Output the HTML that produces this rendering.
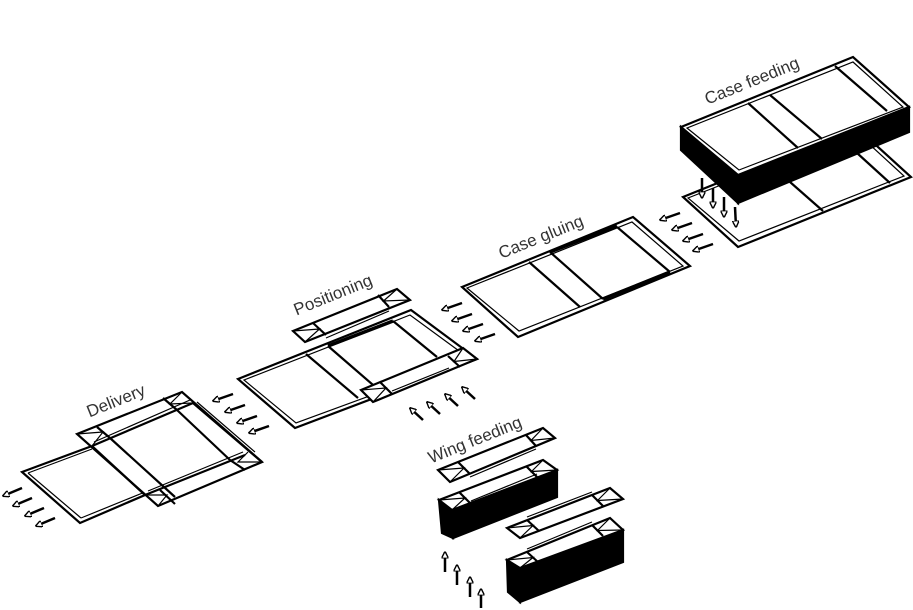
<!DOCTYPE html>
<html><head><meta charset="utf-8"><style>
html,body{margin:0;padding:0;background:#fff;}
svg{display:block}
text{font-family:"Liberation Sans",sans-serif;font-size:17px;fill:#333}
</style></head><body>
<svg width="913" height="610" viewBox="0 0 913 610" xmlns="http://www.w3.org/2000/svg">
<defs>
<marker id="ah" viewBox="0 0 10 10" refX="9" refY="5" markerWidth="2.8" markerHeight="2.8" orient="auto" markerUnits="strokeWidth">
<path d="M0,0 L10,5 L0,10 Z" fill="#fff" stroke="#000" stroke-width="2"/>
</marker>
</defs>
<g stroke="#000" stroke-width="2.2" fill="none" stroke-linejoin="miter">

<!-- Case feeding lower board -->
<polygon points="683,197 856,127 911,177 738,247" fill="#fff"/>
<polygon points="688,198 856,132 904,176 739,241" stroke-width="1.2"/>
<line x1="790" y1="182" x2="823" y2="211"/>
<line x1="857" y1="153" x2="890" y2="183"/>
<!-- Case feeding box -->
<polygon points="681,127 738,175 738,203 681,150" fill="#000"/>
<polygon points="738,175 909,107 909,132 738,203" fill="#000"/>
<polygon points="681,127 853,57 909,107 738,175" fill="#fff"/>
<polygon points="687,128 853,62 903,107 739,170" stroke-width="1.2"/>
<line x1="748" y1="103" x2="798" y2="148"/>
<line x1="770" y1="95" x2="822" y2="139"/>
<line x1="835" y1="66" x2="887" y2="111"/>

<!-- Case gluing board -->
<polygon points="462,287 633,217 690,266 518,337" fill="#fff"/>
<polygon points="467,288 632,222 683,266 519,331" stroke-width="1.2"/>
<line x1="529" y1="262" x2="580" y2="307"/>
<line x1="550" y1="252" x2="603" y2="299"/>
<line x1="617" y1="227" x2="670" y2="272"/>
<line x1="550" y1="252" x2="617" y2="226" stroke-width="3.5"/>
<line x1="603" y1="299" x2="670" y2="272" stroke-width="3.5"/>

<!-- Positioning board -->
<polygon points="238,379 411,310 477,359 295,428" fill="#fff"/>
<polygon points="244,380 410,315 470,359 296,423" stroke-width="1.2"/>
<line x1="306" y1="354" x2="358" y2="398"/>
<line x1="328" y1="346" x2="380" y2="391"/>
<line x1="393" y1="321" x2="437" y2="357"/>
<line x1="328" y1="346" x2="393" y2="321" stroke-width="3.5"/>
<!-- positioning flap -->
<polygon points="361,390 463,348 477,359 373,402" fill="#fff"/>
<line x1="380" y1="382" x2="392" y2="394"/>
<line x1="448" y1="356" x2="460" y2="367"/>
<polyline points="361,390 386,388 373,402" stroke-width="1.2"/>
<polyline points="463,348 454,361.5 477,359" stroke-width="1.2"/>
<line x1="392" y1="391" x2="449" y2="368" stroke-width="1.2"/>
<!-- positioning top strip -->
<polygon points="293,331 397,289 410,300 305,342" fill="#fff"/>
<line x1="313" y1="323" x2="326" y2="335"/>
<line x1="378" y1="295" x2="389" y2="307"/>
<line x1="326" y1="338" x2="389" y2="311" stroke-width="1.2"/>
<polyline points="293,331 319.5,329 305,342" stroke-width="1.2"/>
<polyline points="397,289 383.5,301 410,300" stroke-width="1.2"/>

<!-- Delivery -->
<polygon points="22,472 92,446 145,495 80,523" fill="#fff"/>
<line x1="28" y1="473" x2="92" y2="449" stroke-width="1.2"/>
<line x1="28" y1="473" x2="81" y2="518" stroke-width="1.2"/>
<line x1="81" y1="518" x2="145" y2="492" stroke-width="1.2"/>
<polygon points="77,434 182,392 262,462 158,506" fill="#fff"/>
<line x1="92" y1="446" x2="193" y2="403"/>
<line x1="94" y1="442" x2="190" y2="400" stroke-width="1.2"/>
<line x1="193" y1="403" x2="262" y2="462"/>
<line x1="197" y1="402" x2="255" y2="452" stroke-width="1.2"/>
<line x1="145" y1="495" x2="245" y2="455"/>
<line x1="148" y1="491" x2="243" y2="452" stroke-width="1.2"/>
<line x1="92" y1="446" x2="145" y2="495"/>
<line x1="97" y1="427" x2="110" y2="438"/>
<line x1="110" y1="438" x2="175" y2="497"/>
<line x1="163" y1="398" x2="177" y2="410"/>
<line x1="177" y1="410" x2="230" y2="460"/>
<line x1="230" y1="460" x2="245" y2="470"/>
<line x1="160" y1="490" x2="175" y2="504"/>
<polyline points="77,434 103,432 92,446" stroke-width="1.2"/>
<polyline points="182,392 170,404 193,403" stroke-width="1.2"/>
<polyline points="262,462 238,462 248,452" stroke-width="1.2"/>
<polyline points="158,506 167,495 145,495" stroke-width="1.2"/>

<!-- Wing feeding strip 1 -->
<polygon points="438,470 543,428 555,438 450,482" fill="#fff"/>
<line x1="458" y1="462" x2="470" y2="474"/>
<line x1="526" y1="435" x2="536" y2="446"/>
<polyline points="438,470 464,468 450,482" stroke-width="1.2"/>
<polyline points="543,428 531,440.5 555,438" stroke-width="1.2"/>
<line x1="470" y1="477" x2="536" y2="449" stroke-width="1.2"/>
<!-- Block 1 -->
<polygon points="439,500 452,510 453,538 442,533" fill="#000"/>
<polygon points="452,510 557,470 557,497 453,538" fill="#000"/>
<polygon points="439,500 543,460 557,470 452,510" fill="#fff"/>
<line x1="459" y1="492" x2="471" y2="504"/>
<line x1="526" y1="466" x2="537" y2="477"/>
<polyline points="439,500 465,498 452,510" stroke-width="1.2"/>
<polyline points="543,460 531.5,471.5 557,470" stroke-width="1.2"/>
<line x1="471" y1="501" x2="537" y2="474" stroke-width="1.2"/>
<!-- Strip 2 -->
<polygon points="507,528 610,488 623,499 520,538" fill="#fff"/>
<line x1="527" y1="520" x2="539" y2="531"/>
<line x1="592" y1="495" x2="603" y2="506"/>
<polyline points="507,528 533,525.5 520,538" stroke-width="1.2"/>
<polyline points="610,488 597.5,500.5 623,499" stroke-width="1.2"/>
<line x1="527" y1="517" x2="592" y2="492" stroke-width="1.2"/>
<!-- Block 2 -->
<polygon points="507,560 520,568 520,602 508,592" fill="#000"/>
<polygon points="520,568 623,530 623,562 520,602" fill="#000"/>
<polygon points="507,560 610,518 623,530 520,568" fill="#fff"/>
<line x1="527" y1="552" x2="539" y2="563"/>
<line x1="592" y1="525" x2="603" y2="536"/>
<polyline points="507,560 533,557.5 520,568" stroke-width="1.2"/>
<polyline points="610,518 597.5,530.5 623,530" stroke-width="1.2"/>
<line x1="527" y1="549" x2="592" y2="522" stroke-width="1.2"/>
</g>

<!-- arrows -->
<g stroke="#000" stroke-width="2.5" fill="none" marker-end="url(#ah)">
<line x1="22" y1="488" x2="3" y2="496"/>
<line x1="32" y1="498" x2="13" y2="506"/>
<line x1="44" y1="508" x2="25" y2="516"/>
<line x1="55" y1="518" x2="36" y2="526"/>
<line x1="233" y1="394" x2="213" y2="401"/>
<line x1="245" y1="405" x2="225" y2="412"/>
<line x1="257" y1="416" x2="237" y2="423"/>
<line x1="269" y1="426" x2="249" y2="433"/>
<line x1="462" y1="303" x2="442" y2="310"/>
<line x1="472" y1="314" x2="452" y2="321"/>
<line x1="483" y1="324" x2="463" y2="331"/>
<line x1="495" y1="334" x2="475" y2="341"/>
<line x1="680" y1="213" x2="660" y2="220"/>
<line x1="692" y1="223" x2="672" y2="230"/>
<line x1="703" y1="234" x2="683" y2="241"/>
<line x1="713" y1="244" x2="693" y2="251"/>
<line x1="702" y1="178" x2="702" y2="198"/>
<line x1="713" y1="188" x2="713" y2="208"/>
<line x1="724" y1="197" x2="724" y2="217"/>
<line x1="735" y1="207" x2="736" y2="227"/>
<line x1="423" y1="420" x2="410" y2="408"/>
<line x1="440" y1="414" x2="427" y2="402"/>
<line x1="458" y1="406" x2="445" y2="394"/>
<line x1="475" y1="399" x2="462" y2="387"/>
<line x1="445" y1="572" x2="445" y2="552"/>
<line x1="457" y1="585" x2="457" y2="565"/>
<line x1="470" y1="597" x2="470" y2="577"/>
<line x1="481" y1="608" x2="481" y2="589"/>
</g>

<text transform="translate(754,86) rotate(-22)" text-anchor="middle">Case feeding</text>
<text transform="translate(543,242) rotate(-22)" text-anchor="middle">Case gluing</text>
<text transform="translate(335,300) rotate(-22)" text-anchor="middle">Positioning</text>
<text transform="translate(118,406) rotate(-22)" text-anchor="middle">Delivery</text>
<text transform="translate(477,445) rotate(-22)" text-anchor="middle">Wing feeding</text>
</svg>
</body></html>
